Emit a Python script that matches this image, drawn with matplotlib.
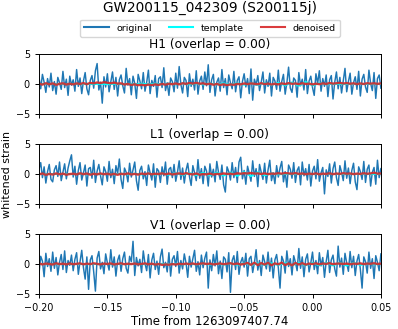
import numpy as np
import matplotlib
matplotlib.use("Agg")
import matplotlib.pyplot as plt

# time window (s, relative to GPS reference)
t_start = -0.2
t_end = 0.05
gps_ref = "1263097407.74"
event = "GW200115_042309 (S200115j)"
detectors = ["H1", "L1", "V1"]
overlaps = [0.00, 0.00, 0.00]

# whitened strain
h1_original = [
    1.2, -0.8, 1.6, 0.3, -1.4, 0.9, -0.5, 1.8, -1.1, 0.4,
    -1.7, 1.1, 0.2, -0.9, 2.1, -0.6, 0.8, -1.9, 1.3, -0.2,
    0.7, -1.2, 2.4, -0.4, 1.0, -1.6, 0.5, 1.9, -0.8, -1.8,
    0.6, 1.4, -0.7, 2.2, 3.4, -1.0, 0.3, -3.2, 1.2, -0.5,
    1.7, -1.3, 0.4, 2.0, -0.9, 1.1, -2.0, 0.7, 1.5, -0.3,
    -1.5, 2.6, -0.2, 0.9, -1.8, 1.3, 0.1, -2.4, 1.6, 0.5,
    -0.8, 1.9, -1.2, 0.3, 2.3, -1.6, 0.6, -0.4, 1.4, -2.2,
    0.9, 1.2, -0.6, 2.7, -1.1, 0.2, -1.9, 1.0, 0.4, -1.3,
    1.8, -0.7, 2.9, -0.1, -1.5, 1.1, 0.6, -2.1, 1.7, -0.4,
    0.8, -1.0, 2.2, -1.7, 0.5, 1.3, -0.9, 2.0, -0.3, 3.2,
    -1.4, 0.7, 1.6, -2.0, 0.3, 1.0, -1.2, 2.4, -0.6, 0.9,
    -1.8, 1.5, 0.2, -0.8, 2.1, -1.3, 0.6, 1.2, -2.3, 0.4,
    1.7, -0.5, 0.9, -1.6, 2.5, -2.7, 0.8, -0.2, 1.4, -1.1,
    0.3, 2.0, -1.5, 0.7, -0.4, 1.8, -2.0, 1.1, 0.5, -0.9,
    2.3, -1.2, 0.4, 1.6, -1.7, 0.2, 2.8, -0.7, -1.4, 1.0,
    0.6, -2.2, 1.9, -0.3, 0.8, -1.0, 2.4, -1.6, 0.5, 1.3,
    -0.6, -1.9, 1.7, 0.1, 2.2, -1.2, 0.9, -0.4, 1.5, -2.1,
    0.7, 1.4, -2.5, 0.3, 2.0, -0.8, 1.1, -1.5, 0.6, 2.6,
    -1.3, 0.4, 1.8, -1.7, 0.2, 1.2, -0.9, 2.1, -2.0, 0.8,
    1.6, -0.5, -1.4, 2.3, 0.1, -1.1, 1.9, -2.4, 0.9, 1.5,
    -0.7,
]
l1_original = [
    0.8, 1.9, -0.6, 1.2, -1.5, 0.4, 1.6, -0.9, -1.3, 0.7,
    1.4, -0.4, 2.0, -1.1, 0.3, 1.7, -0.8, 1.0, 2.2, 3.2,
    -0.5, 1.3, -1.7, 0.6, 1.9, -1.0, 0.2, 1.5, -2.0, 0.9,
    1.1, -0.7, 2.3, -1.4, 0.5, 1.6, -0.3, -1.8, 1.2, 0.4,
    -1.2, 2.1, -0.6, 0.8, -1.6, 1.4, 0.1, 2.5, -0.9, -2.4,
    1.0, 0.3, -1.3, 1.8, -0.5, 0.7, 2.0, -1.1, -2.7, 0.6,
    1.3, -0.8, 0.4, -1.9, 1.5, 0.2, -1.0, 1.7, -2.2, 0.9,
    0.5, -1.4, 1.2, -0.3, 2.0, -1.7, 0.8, 1.1, -0.6, 1.6,
    -1.2, 0.3, 2.2, -0.9, 1.0, -1.5, 0.6, 1.8, -0.4, -1.9,
    1.4, 0.2, -1.1, 2.4, -0.7, 0.9, -1.6, 1.3, 0.5, -2.0,
    1.7, -0.5, 0.8, -1.3, 2.1, 0.3, -0.9, 1.5, -1.8, -3.0,
    1.2, 0.4, -1.0, 1.9, -0.6, 1.1, -1.4, 2.0, 2.8, -0.8,
    0.6, -1.7, 1.3, 0.1, -1.2, 2.2, -0.4, 0.9, -2.1, 1.6,
    0.3, -0.9, 1.8, -1.5, 0.7, 2.3, -1.1, 0.2, -1.6, 1.4,
    -0.5, 1.0, 2.1, -1.3, 0.4, -2.2, 1.5, 0.8, -0.7, 1.9,
    -1.4, 0.6, 1.2, -1.8, 2.0, -0.3, 0.9, -1.0, 1.6, -2.0,
    0.5, 1.3, -0.8, 2.4, -1.2, 0.2, 1.1, -3.3, 0.7, -0.4,
    1.7, -1.5, 0.9, 2.0, -0.6, -1.9, 1.4, 0.3, -1.1, 2.2,
    -0.7, 1.0, -1.6, 0.6, 1.8, -1.3, -2.6, 1.2, 0.4, -0.9,
    2.1, -1.4, 0.8, 1.5, -2.0, 0.3, 1.1, -1.7, 2.3, -0.6,
    0.9,
]
v1_original = [
    -1.6, 1.3, 0.5, -2.1, 1.8, -0.4, 0.9, -1.2, 2.0, -0.7,
    1.1, -1.8, 0.3, 1.6, -0.9, 2.2, -1.4, 0.6, -0.2, 1.5,
    -1.1, 0.8, 1.9, -1.7, 0.4, 2.3, -0.6, -2.5, 1.2, -4.2,
    0.7, 1.4, -1.3, -4.5, 1.0, 2.1, -0.8, 0.3, -1.6, 1.7,
    0.2, -1.0, 2.4, -0.5, 1.2, -2.0, 0.6, 1.5, -1.2, 0.9,
    2.0, -0.7, -1.5, 1.3, 0.4, 3.8, -1.9, 1.1, -0.3, 0.8,
    -1.4, 2.2, 0.1, -1.1, 1.6, -2.3, 0.7, 1.8, -0.9, 0.5,
    -1.7, 1.2, 2.5, -0.6, 0.3, -1.3, 1.9, -2.0, 0.8, 1.4,
    -0.4, 2.1, -1.5, 0.6, -0.8, 1.7, 0.2, -2.2, 1.3, -0.5,
    0.9, 2.3, -1.2, 0.4, -1.8, 1.5, -0.6, 1.0, 2.0, -4.0,
    0.7, -1.1, 1.6, -0.3, 2.2, -1.6, 0.5, -2.4, 1.2, 0.8,
    -1.3, 1.9, -4.7, 0.6, 1.4, -0.9, 2.1, -1.7, 0.3, 1.1,
    -0.5, 1.8, -2.0, 0.9, 1.3, -1.4, 0.2, 2.4, -1.0, 0.6,
    -1.9, 1.5, 0.4, -0.8, 2.0, -1.2, 1.0, -2.3, 0.7, 1.6,
    -0.6, -4.0, 1.3, 0.5, -1.5, 2.2, -0.4, 0.9, -1.8, 1.4,
    0.3, -1.1, 2.6, -0.7, 1.2, -2.1, 0.8, 1.7, -1.3, 0.2,
    2.0, -0.9, 0.6, -1.6, 1.9, -0.3, 1.1, -2.2, 0.4, 2.3,
    -1.4, 0.7, 1.5, -0.8, -2.0, 3.0, -0.5, 1.0, -1.7, 1.8,
    0.2, -1.2, 2.1, -0.6, 1.3, -1.9, 0.5, 1.6, -0.9, -4.0,
    1.2, 0.4, -1.5, 2.0, -0.7, 0.9, -2.4, 1.4, 0.3, -1.1,
    1.7,
]

h1_denoised = [
    0.05, -0.10, 0.12, -0.05, 0.08, -0.12, 0.02, 0.10, -0.08, 0.04,
    -0.06, 0.09, 0.00, 0.14, -0.03, 0.18, 0.10, 0.25, 0.15, 0.28,
    0.20, 0.12, 0.22, 0.05, 0.10, -0.08, 0.02, -0.15, -0.05, -0.20,
    -0.12, -0.22, -0.10, -0.18, -0.06, -0.15, 0.00, -0.10, 0.05, -0.04,
    0.08, -0.06, 0.12, 0.02, 0.15, 0.06, 0.18, 0.04, 0.10, -0.05,
    0.06, -0.12, 0.00, -0.15, -0.05, -0.18, -0.08, -0.12, 0.02, -0.06,
    0.08, -0.02, 0.10, 0.03, -0.05, 0.12, 0.00, 0.06, -0.10, 0.04,
    -0.06, 0.10, -0.02, 0.14, 0.04, 0.08, -0.04, 0.12, 0.02, 0.06,
    -0.08, 0.05, -0.03, 0.10, 0.00, 0.15, 0.06, 0.12, 0.18, 0.08,
    0.14, 0.04, 0.10, -0.02, 0.08, 0.00, 0.12, 0.05, 0.10, 0.02, 0.08,
]
l1_denoised = [
    -0.05, 0.08, -0.12, 0.02, -0.08, 0.10, -0.04, 0.06, -0.10, 0.00,
    0.05, -0.06, 0.12, -0.02, 0.08, -0.10, 0.04, -0.05, 0.09, -0.03,
    0.06, -0.08, 0.02, -0.12, 0.05, -0.04, 0.10, -0.06, 0.03, -0.09,
    0.07, -0.02, 0.11, -0.05, 0.04, 0.00, 0.12, -0.04, 0.08, -0.07,
    0.05, 0.10, -0.02, 0.14, 0.02, -0.06, 0.08, -0.10, 0.00, -0.05,
    0.06, -0.08, 0.04, -0.03, 0.10, 0.02, 0.08, -0.04, 0.12, 0.05,
    0.15, 0.08, 0.18, 0.06, 0.12, 0.02, 0.10, -0.02, 0.08, 0.04,
    0.12, 0.06, 0.16, 0.10, 0.05, 0.14, 0.02, 0.09, -0.03, 0.07,
    0.00, 0.10, -0.04, 0.06, 0.02, 0.11, -0.02, 0.08, 0.03, 0.13,
    0.05, 0.09, -0.01, 0.07, 0.02, 0.12, 0.04, 0.10, 0.22, 0.06, 0.08,
]
v1_denoised = [
    0.10, -0.05, 0.08, 0.02, -0.06, 0.12, 0.00, 0.06, -0.04, 0.09,
    -0.02, 0.05, 0.11, -0.03, 0.07, 0.00, 0.13, 0.04, -0.05, 0.08,
    0.02, 0.10, -0.06, 0.04, 0.12, -0.02, 0.06, 0.00, 0.09, -0.04,
    0.03, 0.11, -0.03, 0.07, -0.08, 0.02, -0.12, -0.04, -0.10, 0.00,
    -0.06, 0.05, -0.02, 0.08, 0.01, 0.10, -0.04, 0.06, 0.12, 0.02,
    0.08, -0.05, 0.04, 0.10, -0.02, 0.06, 0.14, 0.00, 0.09, -0.06,
    0.03, 0.18, -0.12, 0.22, -0.15, 0.16, -0.08, 0.20, -0.18, 0.12,
    -0.05, 0.24, -0.14, 0.10, -0.20, 0.18, -0.06, 0.15, -0.10, 0.08,
    0.02, 0.12, -0.04, 0.09, 0.05, 0.14, -0.02, 0.07, 0.11, 0.03,
    0.08, -0.03, 0.10, 0.04, 0.12, 0.00, 0.09, 0.05, 0.13, 0.02, 0.07,
]

h1_template = [
    0.00, 0.01, -0.01, 0.01, -0.01, 0.02, -0.02, 0.02, -0.02, 0.03,
    -0.03, 0.03, -0.04, 0.04, -0.04, 0.05, -0.05, 0.05, -0.06, 0.06,
    -0.06, 0.07, -0.07, 0.08, -0.08, 0.09, -0.09, 0.10, -0.10, 0.11,
    -0.12, 0.13, -0.14, 0.15, -0.17, 0.19, -0.22, 0.26, -0.30, 0.35,
    -0.25, 0.12, -0.05, 0.02, -0.01, 0.00, 0.00, 0.00, 0.00, 0.00,
    0.00,
]
l1_template = [
    0.00, -0.01, 0.01, -0.01, 0.02, -0.02, 0.02, -0.03, 0.03, -0.04,
    0.04, -0.05, 0.05, -0.06, 0.07, -0.08, 0.09, -0.10, 0.11, -0.12,
    0.13, -0.14, 0.16, -0.18, 0.20, -0.22, 0.24, -0.26, 0.28, -0.30,
    0.32, -0.35, 0.30, -0.22, 0.12, -0.06, 0.03, -0.01, 0.00, 0.00,
    0.00, 0.00, 0.00, 0.00, 0.00, 0.00, 0.00, 0.00, 0.00, 0.00,
    0.00,
]
v1_template = [
    0.00, 0.00, 0.01, -0.01, 0.01, -0.01, 0.01, -0.02, 0.02, -0.02,
    0.02, -0.03, 0.03, -0.03, 0.04, -0.04, 0.04, -0.05, 0.05, -0.05,
    0.06, -0.06, 0.07, -0.07, 0.08, -0.08, 0.09, -0.09, 0.10, -0.10,
    0.11, -0.11, 0.12, -0.13, 0.14, -0.15, 0.16, -0.17, 0.18, -0.19,
    0.20, -0.21, 0.22, -0.23, 0.24, -0.25, 0.22, -0.15, 0.08, -0.03,
    0.00,
]

originals = [h1_original, l1_original, v1_original]
denoised = [h1_denoised, l1_denoised, v1_denoised]
templates = [h1_template, l1_template, v1_template]

fig, axes = plt.subplots(3, 1, figsize=(3.98, 3.29), dpi=100, sharex=True)
fig.subplots_adjust(left=0.098, right=0.957, bottom=0.106, top=0.836, hspace=0.5)

for ax, det, ov, orig, den, tmpl in zip(axes, detectors, overlaps, originals, denoised, templates):
    ax.plot(np.linspace(t_start, t_end, len(orig)), orig, color="tab:blue", lw=1.05, label="original")
    ax.plot(np.linspace(t_start, t_end, len(tmpl)), tmpl, color="cyan", lw=1.4, label="template")
    ax.plot(np.linspace(t_start, t_end, len(den)), den, color="tab:red", lw=1.7, alpha=0.9, label="denoised")
    ax.set_title(f"{det} (overlap = {ov:.2f})", fontsize=8.8, pad=4)
    ax.set_ylim(-5, 5)
    ax.set_yticks([-5, 0, 5])
    ax.tick_params(labelsize=6.9, length=3, width=0.7)
    for s in ax.spines.values():
        s.set_linewidth(0.7)

axes[0].set_xlim(t_start, t_end)
axes[-1].set_xticks([-0.2, -0.15, -0.1, -0.05, 0.0, 0.05])
axes[-1].set_xlabel(f"Time from {gps_ref}", fontsize=8.5, labelpad=1)
axes[1].set_ylabel("whitened strain", fontsize=8.0, labelpad=3)

# centre the headline and legend over the axes, as in the original
xc = 0.5 * (0.098 + 0.957)
fig.suptitle(event, fontsize=9.8, x=xc, y=0.997)
handles, labels = axes[0].get_legend_handles_labels()
leg = fig.legend(handles, labels, loc="center", bbox_to_anchor=(xc, 0.914), ncol=3,
                 fontsize=6.8, handlelength=2.6, borderpad=0.45, columnspacing=1.8,
                 handletextpad=0.8)
for line in leg.get_lines():
    line.set_linewidth(1.5)

fig.savefig("out.png", dpi=100)
